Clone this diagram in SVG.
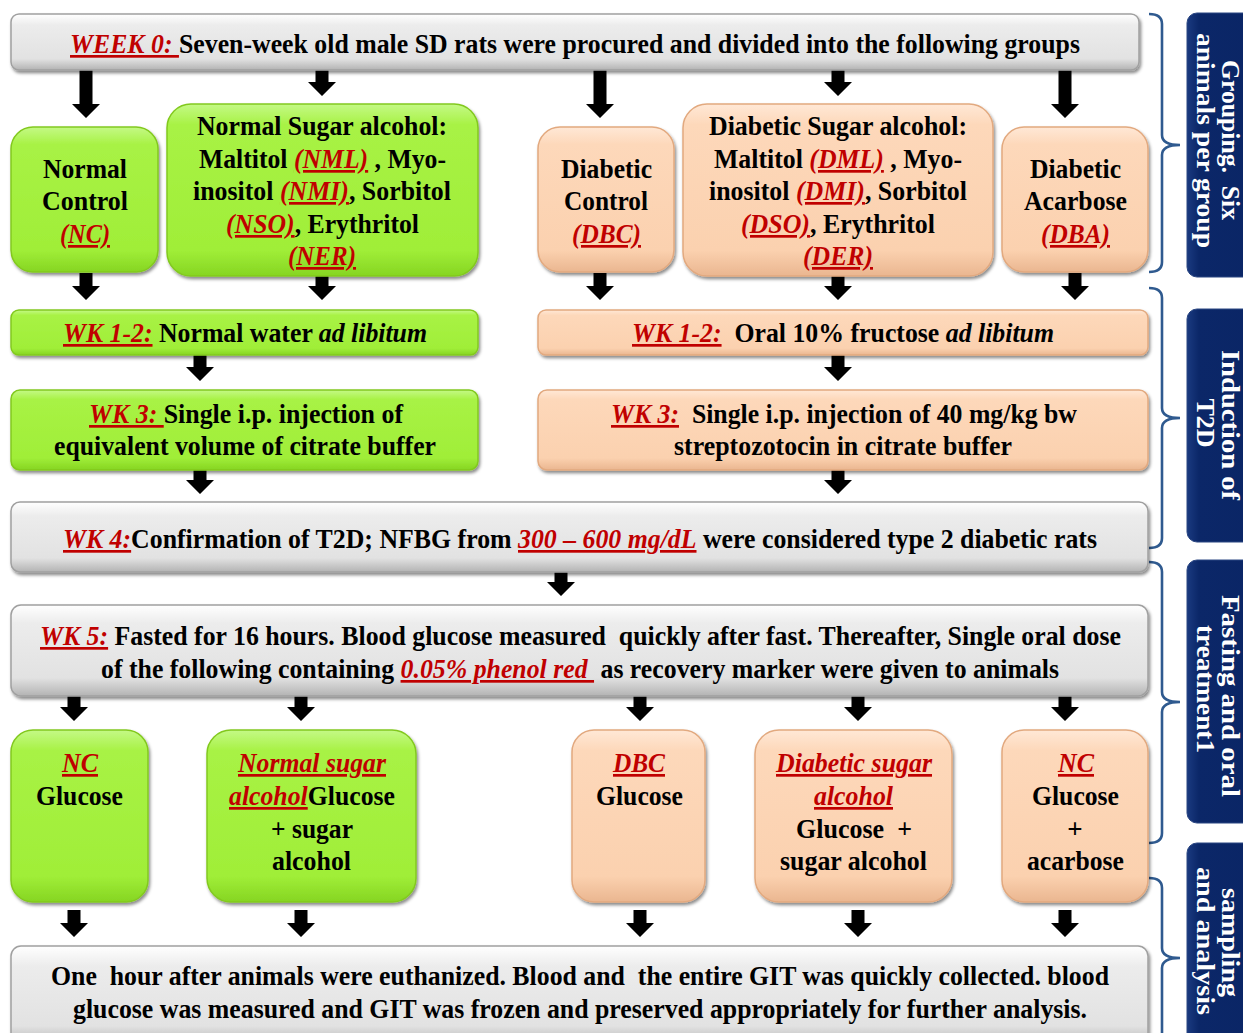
<svg xmlns="http://www.w3.org/2000/svg" width="1243" height="1033" viewBox="0 0 1243 1033">
<defs>
<linearGradient id="gGreen" x1="0" y1="0" x2="0" y2="1">
<stop offset="0" stop-color="#c4f986"/><stop offset="0.12" stop-color="#a8f245"/><stop offset="0.85" stop-color="#a0ee38"/><stop offset="1" stop-color="#86d522"/>
</linearGradient>
<linearGradient id="gPeach" x1="0" y1="0" x2="0" y2="1">
<stop offset="0" stop-color="#ffe8d6"/><stop offset="0.12" stop-color="#fdd8ba"/><stop offset="0.85" stop-color="#fbd1af"/><stop offset="1" stop-color="#eab690"/>
</linearGradient>
<linearGradient id="gGray" x1="0" y1="0" x2="0" y2="1">
<stop offset="0" stop-color="#ffffff"/><stop offset="0.2" stop-color="#ececec"/><stop offset="0.8" stop-color="#e2e2e2"/><stop offset="1" stop-color="#b3b3b3"/>
</linearGradient>
<linearGradient id="gNavy" x1="0" y1="0" x2="1" y2="0">
<stop offset="0" stop-color="#1a3a80"/><stop offset="0.15" stop-color="#0b2768"/><stop offset="1" stop-color="#0a2565"/>
</linearGradient>
<filter id="sh" x="-5%" y="-10%" width="110%" height="125%">
<feDropShadow dx="1.5" dy="2.5" stdDeviation="1.8" flood-color="#000" flood-opacity="0.45"/>
</filter>
</defs>
<style>
text{font-family:"Liberation Serif","Times New Roman",serif;font-weight:bold;font-size:27px;fill:#000}
.r{fill:#c00000;font-style:italic;text-decoration:underline}
.i{font-style:italic}
.lab{fill:#fff;font-size:26px}
.green{fill:url(#gGreen);stroke:#82c91f;stroke-width:1.5;filter:url(#sh)}
.peach{fill:url(#gPeach);stroke:#e2a97f;stroke-width:1.5;filter:url(#sh)}
.gray{fill:url(#gGray);stroke:#a0a0a0;stroke-width:1.5;filter:url(#sh)}
.navy{fill:url(#gNavy);stroke:#2a4682;stroke-width:1}
.arrow{fill:#000}
.br{fill:none;stroke:#2f5a8f;stroke-width:2.6}
</style>
<rect width="1243" height="1033" fill="#fff"/>

<g id="connectors">
<path class="arrow" d="M79.5 70H92.5V104H100L86 118L72 104H79.5Z"/>
<path class="arrow" d="M315.5 70H328.5V82H336L322 96L308 82H315.5Z"/>
<path class="arrow" d="M593.5 70H606.5V104H614L600 118L586 104H593.5Z"/>
<path class="arrow" d="M831.5 70H844.5V82H852L838 96L824 82H831.5Z"/>
<path class="arrow" d="M1058.5 70H1071.5V104H1079L1065 118L1051 104H1058.5Z"/>
<path class="arrow" d="M79.5 273H92.5V286H100L86 300L72 286H79.5Z"/>
<path class="arrow" d="M315.5 276H328.5V286H336L322 300L308 286H315.5Z"/>
<path class="arrow" d="M593.5 273H606.5V286H614L600 300L586 286H593.5Z"/>
<path class="arrow" d="M831.5 276H844.5V286H852L838 300L824 286H831.5Z"/>
<path class="arrow" d="M1068.5 273H1081.5V286H1089L1075 300L1061 286H1068.5Z"/>
<path class="arrow" d="M193.5 355H206.5V367H214L200 381L186 367H193.5Z"/>
<path class="arrow" d="M831.5 355H844.5V367H852L838 381L824 367H831.5Z"/>
<path class="arrow" d="M193.5 470H206.5V480H214L200 494L186 480H193.5Z"/>
<path class="arrow" d="M831.5 470H844.5V480H852L838 494L824 480H831.5Z"/>
<path class="arrow" d="M554.5 572H567.5V582H575L561 596L547 582H554.5Z"/>
<path class="arrow" d="M67.5 696H80.5V707H88L74 721L60 707H67.5Z"/>
<path class="arrow" d="M294.5 696H307.5V707H315L301 721L287 707H294.5Z"/>
<path class="arrow" d="M633.5 696H646.5V707H654L640 721L626 707H633.5Z"/>
<path class="arrow" d="M851.5 696H864.5V707H872L858 721L844 707H851.5Z"/>
<path class="arrow" d="M1058.5 696H1071.5V707H1079L1065 721L1051 707H1058.5Z"/>
<path class="arrow" d="M67.5 910H80.5V923H88L74 937L60 923H67.5Z"/>
<path class="arrow" d="M294.5 910H307.5V923H315L301 937L287 923H294.5Z"/>
<path class="arrow" d="M633.5 910H646.5V923H654L640 937L626 923H633.5Z"/>
<path class="arrow" d="M851.5 910H864.5V923H872L858 937L844 923H851.5Z"/>
<path class="arrow" d="M1058.5 910H1071.5V923H1079L1065 937L1051 923H1058.5Z"/>
</g>

<g id="brackets">
<path class="br" d="M1149 14Q1162 14 1162 24V135Q1162 145 1180 145Q1162 145 1162 155V262Q1162 272 1149 272"/>
<path class="br" d="M1149 288Q1162 288 1162 298V408Q1162 418 1180 418Q1162 418 1162 428V538Q1162 548 1149 548"/>
<path class="br" d="M1149 562Q1162 562 1162 572V692Q1162 702 1180 702Q1162 702 1162 712V833Q1162 843 1149 843"/>
<path class="br" d="M1149 878Q1162 878 1162 888V948Q1162 958 1180 958Q1162 958 1162 968V1040"/>
</g>

<g id="week0">
<rect class="gray" x="11" y="14" width="1128" height="56" rx="8"/>
<text x="70" y="53" textLength="1010" lengthAdjust="spacingAndGlyphs" xml:space="preserve"><tspan class="r">WEEK 0: </tspan>Seven-week old male SD rats were procured and divided into the following groups</text>
</g>

<g id="nc">
<rect class="green" x="11" y="127" width="147" height="145" rx="22"/>
<text x="43" y="178" textLength="84" lengthAdjust="spacingAndGlyphs">Normal</text>
<text x="42" y="210" textLength="86" lengthAdjust="spacingAndGlyphs">Control</text>
<text x="60" y="243" textLength="50" lengthAdjust="spacingAndGlyphs"><tspan class="r">(NC)</tspan></text>
</g>

<g id="nsa">
<rect class="green" x="167" y="104" width="311" height="172" rx="24"/>
<text x="197" y="135" textLength="250" lengthAdjust="spacingAndGlyphs">Normal Sugar alcohol:</text>
<text x="199" y="168" textLength="247" lengthAdjust="spacingAndGlyphs">Maltitol <tspan class="r">(NML)</tspan> , Myo-</text>
<text x="193" y="200" textLength="258" lengthAdjust="spacingAndGlyphs">inositol <tspan class="r">(NMI)</tspan>, Sorbitol</text>
<text x="226" y="233" textLength="193" lengthAdjust="spacingAndGlyphs"><tspan class="r">(NSO)</tspan>, Erythritol</text>
<text x="288" y="265" textLength="68" lengthAdjust="spacingAndGlyphs"><tspan class="r">(NER)</tspan></text>
</g>

<g id="dbc">
<rect class="peach" x="538" y="127" width="136" height="145" rx="22"/>
<text x="561" y="178" textLength="91" lengthAdjust="spacingAndGlyphs">Diabetic</text>
<text x="564" y="210" textLength="84" lengthAdjust="spacingAndGlyphs">Control</text>
<text x="572" y="243" textLength="69" lengthAdjust="spacingAndGlyphs"><tspan class="r">(DBC)</tspan></text>
</g>

<g id="dsa">
<rect class="peach" x="683" y="104" width="310" height="172" rx="24"/>
<text x="709" y="135" textLength="258" lengthAdjust="spacingAndGlyphs">Diabetic Sugar alcohol:</text>
<text x="714" y="168" textLength="248" lengthAdjust="spacingAndGlyphs">Maltitol <tspan class="r">(DML)</tspan> , Myo-</text>
<text x="709" y="200" textLength="258" lengthAdjust="spacingAndGlyphs">inositol <tspan class="r">(DMI)</tspan>, Sorbitol</text>
<text x="741" y="233" textLength="194" lengthAdjust="spacingAndGlyphs"><tspan class="r">(DSO)</tspan>, Erythritol</text>
<text x="803" y="265" textLength="70" lengthAdjust="spacingAndGlyphs"><tspan class="r">(DER)</tspan></text>
</g>

<g id="dba">
<rect class="peach" x="1002" y="127" width="146" height="145" rx="22"/>
<text x="1030" y="178" textLength="91" lengthAdjust="spacingAndGlyphs">Diabetic</text>
<text x="1024" y="210" textLength="103" lengthAdjust="spacingAndGlyphs">Acarbose</text>
<text x="1041" y="243" textLength="69" lengthAdjust="spacingAndGlyphs"><tspan class="r">(DBA)</tspan></text>
</g>

<g id="wk12-normal">
<rect class="green" x="11" y="310" width="467" height="45" rx="8"/>
<text x="63" y="342" textLength="364" lengthAdjust="spacingAndGlyphs"><tspan class="r">WK 1-2:</tspan> Normal water <tspan class="i">ad libitum</tspan></text>
</g>

<g id="wk12-diabetic">
<rect class="peach" x="538" y="310" width="610" height="45" rx="8"/>
<text x="632" y="342" textLength="422" lengthAdjust="spacingAndGlyphs" xml:space="preserve"><tspan class="r">WK 1-2:</tspan>  Oral 10% fructose <tspan class="i">ad libitum</tspan></text>
</g>

<g id="wk3-normal">
<rect class="green" x="11" y="390" width="467" height="80" rx="9"/>
<text x="89" y="423" textLength="314" lengthAdjust="spacingAndGlyphs" xml:space="preserve"><tspan class="r">WK 3: </tspan>Single i.p. injection of</text>
<text x="54" y="455" textLength="382" lengthAdjust="spacingAndGlyphs">equivalent volume of citrate buffer</text>
</g>

<g id="wk3-diabetic">
<rect class="peach" x="538" y="390" width="610" height="80" rx="9"/>
<text x="611" y="423" textLength="466" lengthAdjust="spacingAndGlyphs" xml:space="preserve"><tspan class="r">WK 3:</tspan>  Single i.p. injection of 40 mg/kg bw</text>
<text x="674" y="455" textLength="338" lengthAdjust="spacingAndGlyphs">streptozotocin in citrate buffer</text>
</g>

<g id="wk4">
<rect class="gray" x="11" y="502" width="1137" height="70" rx="9"/>
<text x="63" y="548" textLength="1034" lengthAdjust="spacingAndGlyphs"><tspan class="r">WK 4:</tspan>Confirmation of T2D; NFBG from <tspan class="r">300 – 600 mg/dL</tspan> were considered type 2 diabetic rats</text>
</g>

<g id="wk5">
<rect class="gray" x="11" y="605" width="1137" height="91" rx="10"/>
<text x="40" y="645" textLength="1081" lengthAdjust="spacingAndGlyphs" xml:space="preserve"><tspan class="r">WK 5:</tspan> Fasted for 16 hours. Blood glucose measured  quickly after fast. Thereafter, Single oral dose</text>
<text x="101" y="678" textLength="958" lengthAdjust="spacingAndGlyphs" xml:space="preserve">of the following containing <tspan class="r">0.05% phenol red </tspan> as recovery marker were given to animals</text>
</g>

<g id="nc-glucose">
<rect class="green" x="11" y="730" width="137" height="172" rx="22"/>
<text x="62" y="772" textLength="36" lengthAdjust="spacingAndGlyphs"><tspan class="r">NC</tspan></text>
<text x="36" y="805" textLength="87" lengthAdjust="spacingAndGlyphs">Glucose</text>
</g>

<g id="nsa-glucose">
<rect class="green" x="207" y="730" width="209" height="172" rx="24"/>
<text x="238" y="772" textLength="148" lengthAdjust="spacingAndGlyphs"><tspan class="r">Normal sugar</tspan></text>
<text x="229" y="805" textLength="166" lengthAdjust="spacingAndGlyphs"><tspan class="r">alcohol</tspan>Glucose</text>
<text x="271" y="838" textLength="82" lengthAdjust="spacingAndGlyphs">+ sugar</text>
<text x="272" y="870" textLength="79" lengthAdjust="spacingAndGlyphs">alcohol</text>
</g>

<g id="dbc-glucose">
<rect class="peach" x="572" y="730" width="133" height="172" rx="22"/>
<text x="613" y="772" textLength="52" lengthAdjust="spacingAndGlyphs"><tspan class="r">DBC</tspan></text>
<text x="596" y="805" textLength="87" lengthAdjust="spacingAndGlyphs">Glucose</text>
</g>

<g id="dsa-glucose">
<rect class="peach" x="755" y="730" width="197" height="172" rx="24"/>
<text x="776" y="772" textLength="156" lengthAdjust="spacingAndGlyphs"><tspan class="r">Diabetic sugar</tspan></text>
<text x="814" y="805" textLength="79" lengthAdjust="spacingAndGlyphs"><tspan class="r">alcohol</tspan></text>
<text x="796" y="838" textLength="116" lengthAdjust="spacingAndGlyphs" xml:space="preserve">Glucose  +</text>
<text x="780" y="870" textLength="147" lengthAdjust="spacingAndGlyphs">sugar alcohol</text>
</g>

<g id="nc-acarbose">
<rect class="peach" x="1002" y="730" width="146" height="172" rx="22"/>
<text x="1058" y="772" textLength="36" lengthAdjust="spacingAndGlyphs"><tspan class="r">NC</tspan></text>
<text x="1032" y="805" textLength="87" lengthAdjust="spacingAndGlyphs">Glucose</text>
<text x="1075" y="838" text-anchor="middle">+</text>
<text x="1027" y="870" textLength="97" lengthAdjust="spacingAndGlyphs">acarbose</text>
</g>

<g id="final">
<rect class="gray" x="11" y="946" width="1137" height="100" rx="10"/>
<text x="51" y="985" textLength="1058" lengthAdjust="spacingAndGlyphs" xml:space="preserve">One  hour after animals were euthanized. Blood and  the entire GIT was quickly collected. blood</text>
<text x="73" y="1018" textLength="1014" lengthAdjust="spacingAndGlyphs">glucose was measured and GIT was frozen and preserved appropriately for further analysis.</text>
</g>

<g id="label-grouping">
<rect class="navy" x="1187" y="13" width="80" height="264" rx="10"/>
<text class="lab" transform="translate(1222 60) rotate(90)" textLength="160" lengthAdjust="spacingAndGlyphs" xml:space="preserve">Grouping.  Six</text>
<text class="lab" transform="translate(1197 33) rotate(90)" textLength="215" lengthAdjust="spacingAndGlyphs">animals per group</text>
</g>

<g id="label-induction">
<rect class="navy" x="1187" y="309" width="80" height="233" rx="10"/>
<text class="lab" transform="translate(1222 350) rotate(90)" textLength="150" lengthAdjust="spacingAndGlyphs">Induction of</text>
<text class="lab" transform="translate(1197 423) rotate(90)" text-anchor="middle">T2D</text>
</g>

<g id="label-fasting">
<rect class="navy" x="1187" y="560" width="80" height="263" rx="10"/>
<text class="lab" transform="translate(1222 595) rotate(90)" textLength="202" lengthAdjust="spacingAndGlyphs">Fasting and oral</text>
<text class="lab" transform="translate(1197 625) rotate(90)" textLength="128" lengthAdjust="spacingAndGlyphs">treatment1</text>
</g>

<g id="label-sampling">
<rect class="navy" x="1187" y="843" width="80" height="210" rx="10"/>
<text class="lab" transform="translate(1222 888) rotate(90)" textLength="109" lengthAdjust="spacingAndGlyphs">sampling</text>
<text class="lab" transform="translate(1197 867) rotate(90)" textLength="148" lengthAdjust="spacingAndGlyphs">and analysis</text>
</g>
</svg>
